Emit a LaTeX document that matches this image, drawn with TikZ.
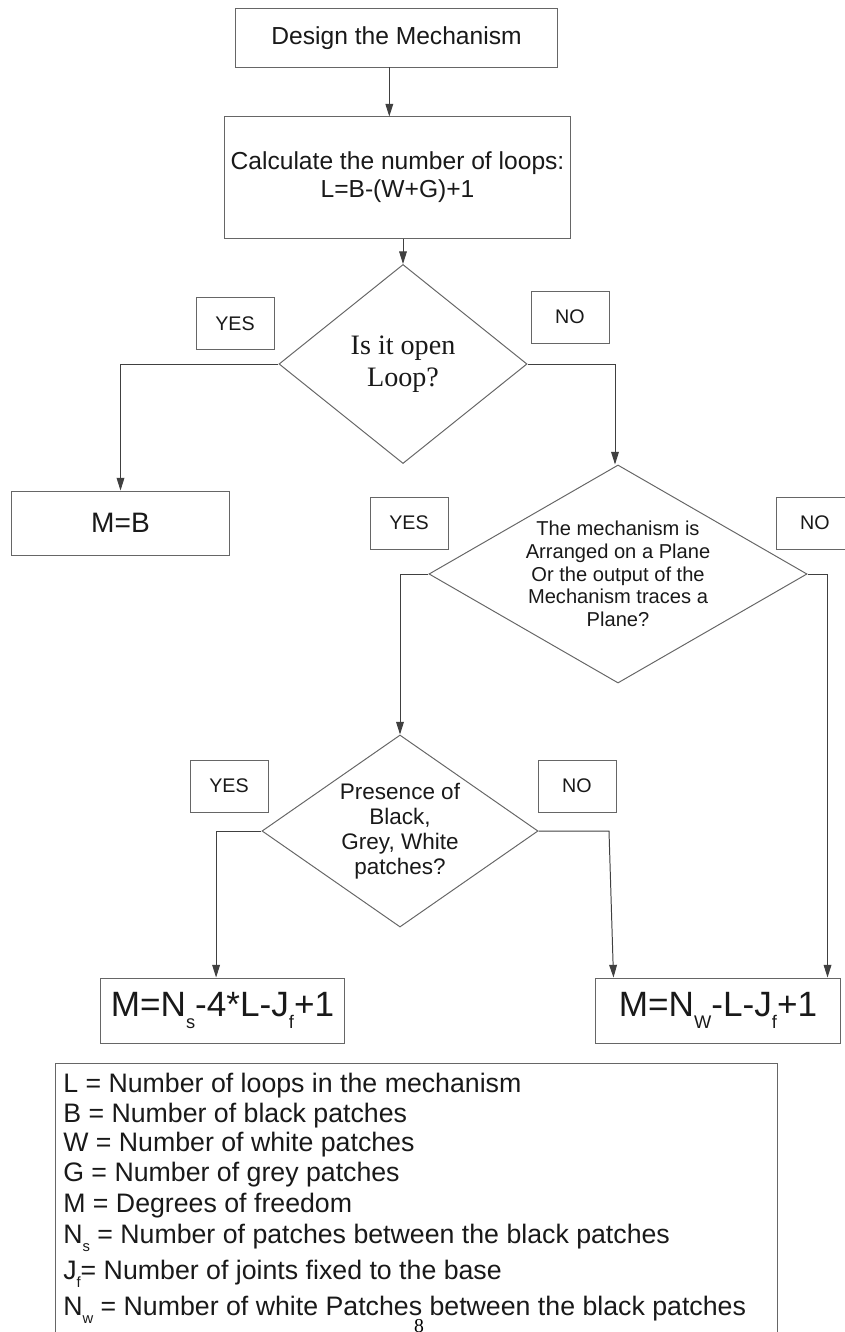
\documentclass[tikz,border=0pt]{standalone}
\usepackage{fontspec}
\setmainfont{Liberation Sans}
\newfontfamily\serifface{Liberation Serif}
\usepackage{tikz}
\usetikzlibrary{shapes.geometric, positioning, arrows.meta, calc}

% lowered index as the drawing prints it (N_s, J_f, ...)
\newcommand{\lowidx}[2][13]{\raisebox{-0.33em}{\fontsize{#1}{#1}\selectfont #2}}

\begin{document}
\begin{tikzpicture}[
            x=0.025cm, y=-0.025cm,
            >={Triangle[length=9pt,width=5.5pt]},
            frame/.style={draw=black!60, line width=0.7pt},
            line/.style={draw=black!75, line width=0.7pt},
            box/.style={frame, align=center, inner sep=0pt, text=black!90},
            tag/.style={box, minimum width=1.95cm, minimum height=1.3cm, font=\fontsize{14}{16}\selectfont},
            decision/.style={diamond, frame, align=center, inner sep=0pt, text=black!90},
            result/.style={box, minimum width=6.1cm, minimum height=1.625cm, font=\fontsize{25}{28}\selectfont}
        ]

        \useasboundingbox (0,0) rectangle (844,1332);

        % --- Top of the chart ---
        \node[box, minimum width=8.025cm, minimum height=1.45cm, font=\fontsize{17.5}{20}\selectfont] (design) at (396.5,38) {Design the Mechanism};
        \node[box, minimum width=8.625cm, minimum height=3.025cm, font=\fontsize{17.5}{19.9}\selectfont] (loops) at (397.5,177.5) {Calculate the number of loops:\\L=B-(W+G)+1};

        % --- Decisions ---
        \node[decision, minimum width=6.2cm, minimum height=4.975cm, aspect=1.246, font=\serifface\fontsize{20}{22.7}\selectfont] (open) at (403,364) {Is it open\\Loop?};
        \node[decision, minimum width=9.45cm, minimum height=5.45cm, aspect=1.734, font=\fontsize{14.3}{16.1}\selectfont] (plane) at (618,574) {The mechanism is\\Arranged on a Plane\\Or the output of the\\Mechanism traces a\\Plane?};
        \node[decision, minimum width=6.9cm, minimum height=4.8cm, aspect=1.4375, font=\fontsize{16}{17.7}\selectfont] (presence) at (400,831) {Presence of\\Black,\\Grey, White\\patches?};

        % --- Results ---
        \node[box, minimum width=5.425cm, minimum height=1.6cm, font=\fontsize{20}{24}\selectfont] (mb) at (120.5,523) {M=B};
        \node[result] (fs) at (222.5,1010.5) {M=N\lowidx{s}-4*L-J\lowidx{f}+1};
        \node[result] (fw) at (718,1010.5) {M=N\lowidx{W}-L-J\lowidx{f}+1};

        % --- YES / NO tags ---
        \node[tag] (yesA) at (235,323.5) {YES};
        \node[tag] (noA) at (570,317) {NO};
        \node[tag] (yesB) at (409,523) {YES};
        \node[tag] (noB) at (815,523) {NO};
        \node[tag] (yesC) at (229,786) {YES};
        \node[tag] (noC) at (577,786) {NO};

        % --- Connectors ---
        \draw[line, ->] ([xshift=-0.18cm]design.south) -- ([xshift=-0.18cm]design.south |- loops.north);
        \draw[line, ->] (open.north |- loops.south) -- (open.north);
        \draw[line, ->] (open.west) -| (mb.north);
        \draw[line, ->] (open.east) -| ([xshift=-0.075cm]plane.north);
        \draw[line, ->] (plane.west) -| (presence.north);
        \draw[line, ->] (plane.east) -| ([xshift=-0.325cm]fw.north east);
        \draw[line, ->] (presence.west) -| ([xshift=-0.16cm]fs.north);
        \coordinate (bend) at (609,831);
        \draw[line, ->] (presence.east) -- (bend) -- ([xshift=0.45cm]fw.north west);

        % --- Key of the symbols ---
        \draw[frame] (55,1063) rectangle (777,1352);
        \foreach \yy/\entry [count=\i] in {
            1092/{L = Number of loops in the mechanism},
            1122/{B = Number of black patches},
            1151/{W = Number of white patches},
            1181/{G = Number of grey patches},
            1212/{M = Degrees of freedom},
            1243/{N\lowidx[10.5]{s} = Number of patches between the black patches},
            1279/{J\lowidx[10.5]{f}= Number of joints fixed to the base},
            1315/{N\lowidx[10.5]{w} = Number of white Patches between the black patches}}
            \node[anchor=base west, inner sep=0pt, text=black!90, font=\fontsize{19}{21}\selectfont] (key\i) at (63,\yy) {\entry};

        % page number, cut by the lower edge
        \node[anchor=north, inner sep=0pt, font=\serifface\fontsize{14}{14}\selectfont] (pagenum) at (419,1319) {8};

\end{tikzpicture}
\end{document}
